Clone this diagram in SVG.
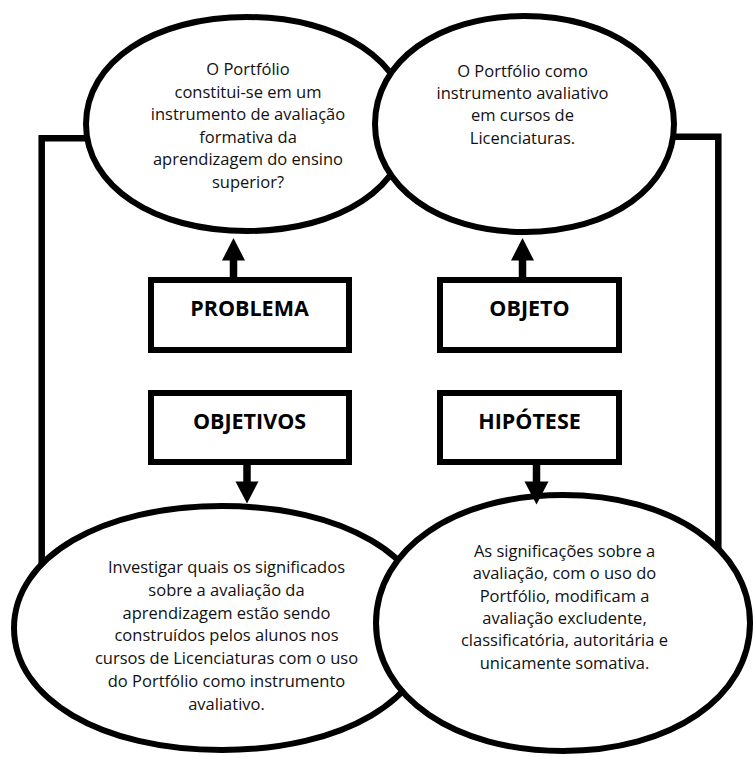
<svg xmlns="http://www.w3.org/2000/svg" width="755" height="757" viewBox="0 0 755 757">
<style>
.shape{fill:#fff;stroke:#000;stroke-width:6}
.box{fill:#fff;stroke:#000;stroke-width:6}
.conn{fill:none;stroke:#000;stroke-width:6.5}
.shaft{fill:none;stroke:#000;stroke-width:7.5}
.head{fill:#000}
.t{font-family:"Open Sans","Liberation Sans",sans-serif;font-size:16.5px;fill:#111;text-anchor:middle}
.lbl{font-family:"Open Sans","Liberation Sans",sans-serif;font-size:21.5px;font-weight:bold;fill:#000;text-anchor:middle}
</style>
<rect x="0" y="0" width="755" height="757" fill="#fff"/>
<g id="connectors">
<polyline class="conn" points="90,138.3 41.7,138.3 41.7,565"/>
<polyline class="conn" points="670,136.7 718.3,136.7 718.3,560"/>
</g>
<g id="ellipse-problema">
<path class="shape" d="M86,124 C86,61.9 153.6,17 247,17 C340.4,17 408,61.9 408,124 C408,186.1 340.4,231 247,231 C153.6,231 86,186.1 86,124 Z"/>
<text class="t" x="248" y="75">O Portfólio</text>
<text class="t" x="248" y="97.6">constitui-se em um</text>
<text class="t" x="248" y="120.2">instrumento de avaliação</text>
<text class="t" x="248" y="142.8">formativa da</text>
<text class="t" x="248" y="165.4">aprendizagem do ensino</text>
<text class="t" x="248" y="188">superior?</text>
</g>
<g id="ellipse-objeto">
<path class="shape" d="M375,124 C375,61.4 437.8,16 524.5,16 C611.2,16 674,61.4 674,124 C674,186.6 611.2,232 524.5,232 C437.8,232 375,186.6 375,124 Z"/>
<text class="t" x="522.5" y="77">O Portfólio como</text>
<text class="t" x="522.5" y="99.2">instrumento avaliativo</text>
<text class="t" x="522.5" y="121.4">em cursos de</text>
<text class="t" x="522.5" y="143.6">Licenciaturas.</text>
</g>
<g id="box-problema">
<rect class="box" x="151" y="280" width="198" height="70"/>
<text class="lbl" x="249.5" y="316">PROBLEMA</text>
</g>
<g id="box-objeto">
<rect class="box" x="440" y="280" width="179" height="70"/>
<text class="lbl" x="529.5" y="316">OBJETO</text>
</g>
<g id="box-objetivos">
<rect class="box" x="151" y="393" width="198" height="69"/>
<text class="lbl" x="249.5" y="429">OBJETIVOS</text>
</g>
<g id="box-hipotese">
<rect class="box" x="440" y="393" width="179" height="69"/>
<text class="lbl" x="529.5" y="429">HIPÓTESE</text>
</g>
<g id="ellipse-objetivos">
<path class="shape" d="M14,628 C14,557.2 101.4,506 222,506 C342.6,506 430,557.2 430,628 C430,698.8 342.6,750 222,750 C101.4,750 14,698.8 14,628 Z"/>
<text class="t" x="226.5" y="573">Investigar quais os significados</text>
<text class="t" x="226.5" y="595.8">sobre a avaliação da</text>
<text class="t" x="226.5" y="618.6">aprendizagem estão sendo</text>
<text class="t" x="226.5" y="641.4">construídos pelos alunos nos</text>
<text class="t" x="226.5" y="664.2">cursos de Licenciaturas com o uso</text>
<text class="t" x="226.5" y="687">do Portfólio como instrumento</text>
<text class="t" x="226.5" y="709.8">avaliativo.</text>
</g>
<g id="ellipse-hipotese">
<path class="shape" d="M376,623 C376,548.8 454.5,495 563,495 C671.5,495 750,548.8 750,623 C750,697.2 671.5,751 563,751 C454.5,751 376,697.2 376,623 Z"/>
<text class="t" x="564.5" y="557">As significações sobre a</text>
<text class="t" x="564.5" y="579.3">avaliação, com o uso do</text>
<text class="t" x="564.5" y="601.6">Portfólio, modificam a</text>
<text class="t" x="564.5" y="623.9">avaliação excludente,</text>
<text class="t" x="564.5" y="646.2">classificatória, autoritária e</text>
<text class="t" x="564.5" y="668.5">unicamente somativa.</text>
</g>
<g id="arrows">
<line class="shaft" x1="233.5" y1="280" x2="233.5" y2="258"/>
<polygon class="head" points="222,260.5 245,260.5 233.5,238"/>
<line class="shaft" x1="522.5" y1="280" x2="522.5" y2="258"/>
<polygon class="head" points="511,260.5 534,260.5 522.5,238"/>
<line class="shaft" x1="247" y1="462" x2="247" y2="484"/>
<polygon class="head" points="235.5,481.5 258.5,481.5 247,503.5"/>
<line class="shaft" x1="536.5" y1="462" x2="536.5" y2="484"/>
<polygon class="head" points="524.5,481.5 548.5,481.5 536.5,504.5"/>
</g>
</svg>
